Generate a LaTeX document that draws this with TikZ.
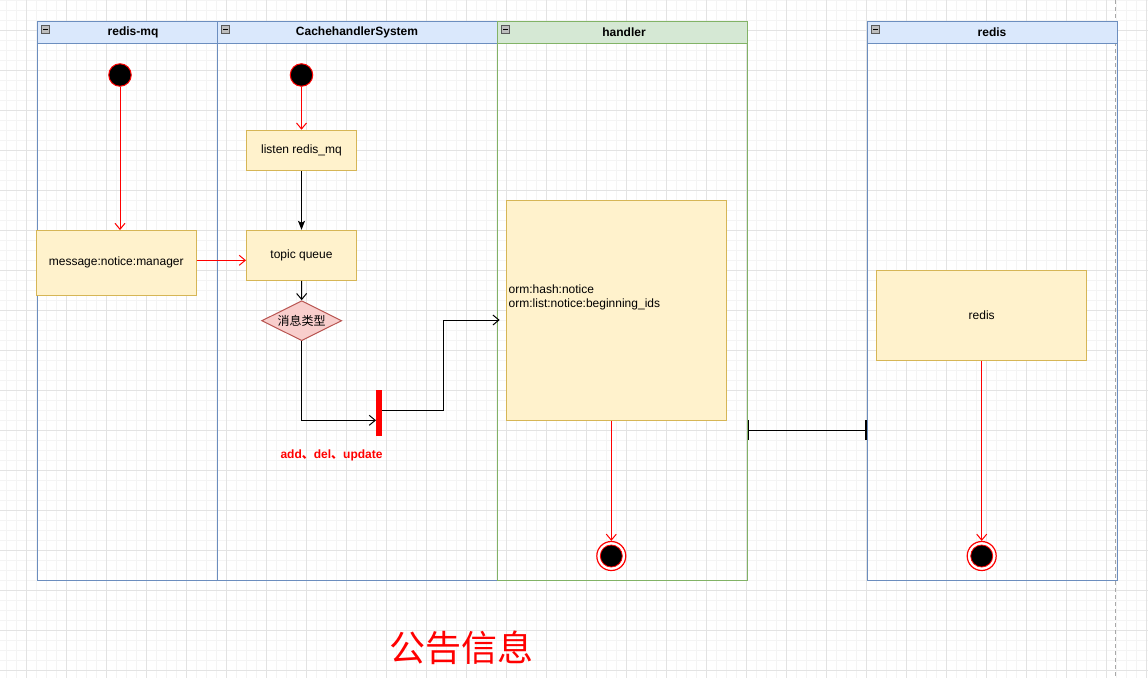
\documentclass[tikz,border=0pt]{standalone}
\usepackage{fontspec}
\setmainfont{Liberation Sans}
\newfontfamily\cjk{Noto Sans CJK SC}
\usetikzlibrary{arrows.meta,shapes.geometric}
\definecolor{lanebl}{HTML}{6C8EBF}
\definecolor{lanebf}{HTML}{DAE8FC}
\definecolor{lanegl}{HTML}{82B366}
\definecolor{lanegf}{HTML}{D5E8D4}
\definecolor{boxf}{HTML}{FFF2CC}
\definecolor{boxl}{HTML}{D6B656}
\definecolor{dmf}{HTML}{F8CECC}
\definecolor{dml}{HTML}{B85450}
\definecolor{gridmaj}{HTML}{E3E3E3}
\definecolor{gridmin}{HTML}{F4F4F4}
\definecolor{xred}{HTML}{FF0000}
\definecolor{icong}{HTML}{BDBDBD}
\definecolor{pageline}{HTML}{A8A8A8}
\tikzset{
  txt/.style={font=\fontsize{12}{14}\selectfont, text=black},
  lanebody/.style={draw=#1, line width=1pt, inner sep=0pt, anchor=north west, minimum height=559.5pt},
  lanehead/.style={draw=#1, line width=1pt, inner sep=0pt, anchor=north west, minimum height=22.5pt},
  hdrtxt/.style={font=\bfseries\fontsize{12}{14}\selectfont, text=black},
  actbox/.style={draw=boxl, fill=boxf, line width=1pt, inner sep=0pt, txt},
  startst/.style={circle, draw=xred, fill=black, line width=1pt, minimum size=22.5pt, inner sep=0pt},
  endst/.style={circle, draw=xred, fill=white, line width=1.2pt, minimum size=29pt, inner sep=0pt,
     path picture={\fill[black] (path picture bounding box.center) circle (11pt);
                   \draw[xred, line width=0.8pt] (path picture bounding box.center) circle (11pt);}},
  openred/.style={draw=xred, line width=1pt, -{Straight Barb[length=6pt,width=10pt]}},
  openblk/.style={draw=black, line width=1pt, -{Straight Barb[length=6pt,width=10pt]}},
  fillblk/.style={draw=black, line width=1pt, -{Stealth[length=9pt,width=7pt,inset=2pt]}},
  plainred/.style={draw=xred, line width=1pt},
  minusicon/.style={draw=black!65, fill=icong, line width=0.8pt, minimum size=8pt, inner sep=0pt,
     path picture={\draw[black, line width=1.2pt] ([xshift=-2.5pt]path picture bounding box.center) -- ([xshift=2.5pt]path picture bounding box.center);}},
}
\begin{document}
\begin{tikzpicture}[x=1pt,y=-1pt]
\useasboundingbox (0,0) rectangle (1148,678);
\fill[white] (0,0) rectangle (1148,678);
% grid
\foreach \i in {0,...,114} \draw[gridmin, line width=0.8pt] ({6.7+10*\i},0) -- ({6.7+10*\i},678);
\foreach \j in {0,...,67} \draw[gridmin, line width=0.8pt] (0,{10*\j}) -- (1148,{10*\j});
\foreach \i in {0,...,28} \draw[gridmaj, line width=1pt] ({26.7+40*\i},0) -- ({26.7+40*\i},678);
\foreach \j in {0,...,16} \draw[gridmaj, line width=1pt] (0,{30+40*\j}) -- (1148,{30+40*\j});
% page boundary
\draw[pageline, line width=1pt, dash pattern=on 4pt off 3pt] (1115.7,0) -- (1115.7,678);

% lanes
\node[lanebody=lanebl, minimum width=180pt] (l1) at (36.5,20.5) {};
\node[lanebody=lanebl, minimum width=280pt] (l2) at (216.5,20.5) {};
\node[lanebody=lanegl, minimum width=250pt] (l3) at (496.5,20.5) {};
\node[lanebody=lanebl, minimum width=250pt] (l4) at (866.5,20.5) {};
\node[lanehead=lanebl, fill=lanebf, minimum width=180pt] (h1) at (36.5,20.5) {};
\node[lanehead=lanebl, fill=lanebf, minimum width=280pt] (h2) at (216.5,20.5) {};
\node[lanehead=lanegl, fill=lanegf, minimum width=250pt] (h3) at (496.5,20.5) {};
\node[lanehead=lanebl, fill=lanebf, minimum width=250pt] (h4) at (866.5,20.5) {};
\node[hdrtxt] (t1) at ([xshift=6pt]h1.center) {redis-mq};
\node[hdrtxt] (t2) at (h2.center) {CachehandlerSystem};
\node[hdrtxt] (t3) at ([xshift=2pt]h3.center) {handler};
\node[hdrtxt] (t4) at (h4.center) {redis};
\node[minusicon] (m1) at ([xshift=9pt,yshift=-9pt]h1.north west) {};
\node[minusicon] (m2) at ([xshift=9pt,yshift=-9pt]h2.north west) {};
\node[minusicon] (m3) at ([xshift=9pt,yshift=-9pt]h3.north west) {};
\node[minusicon] (m4) at ([xshift=9pt,yshift=-9pt]h4.north west) {};

% redis-mq lane
\node[startst] (s1) at (120,75) {};
\node[actbox, minimum width=159.5pt, minimum height=64.5pt] (mbox) at (116.25,262.8) {message:notice:manager};

% CachehandlerSystem lane
\node[startst] (s2) at (301.5,75) {};
\node[actbox, minimum width=110pt, minimum height=40.5pt] (listen) at (301.5,150.5) {listen redis\_mq};
\node[actbox, minimum width=110pt, minimum height=50pt] (topic) at (301.5,255.3) {topic queue};
\node[diamond, draw=dml, fill=dmf, line width=1pt, aspect=2, minimum width=80pt, minimum height=40pt, inner sep=0pt, txt] (dm) at (301.7,320.7) {\cjk 消息类型};
\node[fill=xred, minimum width=6pt, minimum height=45.5pt, inner sep=0pt] (bar) at (379.2,412.8) {};
\node[font=\bfseries\fontsize{12}{14}\selectfont, text=xred] (lbl) at (331.5,455) {add{\cjk 、}del{\cjk 、}update};

% handler lane
\node[actbox, minimum width=220pt, minimum height=220pt] (hbox) at (616.7,310) {};
\node[txt, anchor=west, align=left, inner sep=0pt] (horm) at (508.5,297) {orm:hash:notice\\orm:list:notice:beginning\_ids};
\node[endst] (e1) at (611.3,556) {};

% redis lane
\node[actbox, minimum width=210pt, minimum height=89.5pt] (rbox) at (981.7,315.4) {redis};
\node[endst] (e2) at (981.7,556) {};

% connectors
\draw[openred] (s1.south) -- (s1.south |- mbox.north);
\draw[openred] (s2.south) -- (listen.north);
\draw[fillblk] (listen.south) -- (topic.north);
\draw[openred] (mbox.east |- 0,260.3) -- (topic.west |- 0,260.3);
\draw[openblk] (topic.south) -- (dm.north);
\draw[openblk] (dm.south) |- ([yshift=-7.5pt]bar.west);
\coordinate (k1) at (443.5,320);
\coordinate (hin) at ([yshift=-10pt]hbox.west);
\draw[openblk, shorten >=6.5pt] ([yshift=2.5pt]bar.east) -| (hin -| k1) -- (hin);
\draw[openred] (e1.north |- hbox.south) -- (e1.north);
\draw[openred] (rbox.south) -- (e2.north);
\coordinate (cl) at (l3.east |- 0,430);
\coordinate (cr) at (l4.west |- 0,430);
\draw[line width=1pt, {Bar[width=20pt,line width=1.2pt]}-{Bar[width=20pt,line width=1.2pt]}] (cl) -- (cr);

% title
\node[font=\cjk\fontsize{36}{40}\selectfont, text=xred] (title) at (461.5,648) {公告信息};
\end{tikzpicture}
\end{document}
